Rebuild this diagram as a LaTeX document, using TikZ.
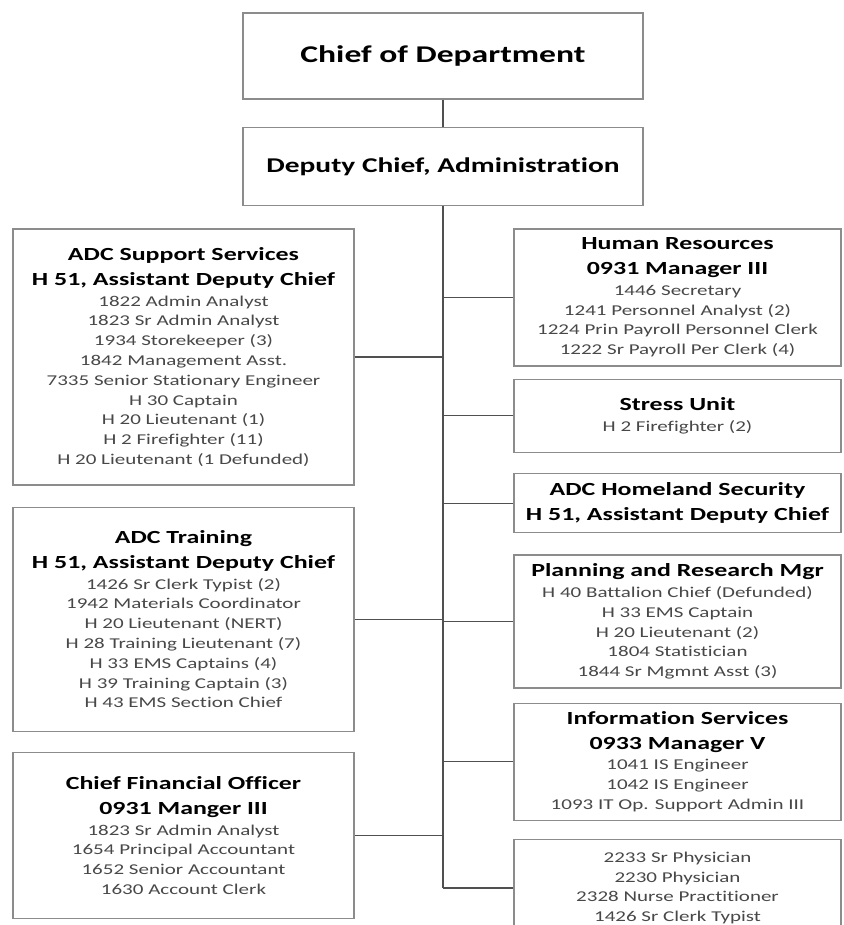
\documentclass[tikz,border=0pt]{standalone}
\usepackage{fontspec}
\setmainfont{Carlito}[FakeStretch=1.4, Ligatures=NoCommon]
\usetikzlibrary{positioning}
\definecolor{boxgray}{RGB}{140,140,140}
\definecolor{linegray}{RGB}{80,80,80}
\definecolor{textgray}{RGB}{72,72,72}
\newcommand{\unit}[1]{{\fontsize{18.5}{25}\selectfont\bfseries\color{black}#1}}

\begin{document}
\begin{tikzpicture}[
    x=1pt, y=-1pt,
    box/.style={rectangle, draw=boxgray, line width=1.3pt, fill=white, align=center, inner sep=0pt},
    leftbox/.style={box, minimum width=341pt, font=\fontsize{15}{19.8}\selectfont, text=textgray},
    rightbox/.style={box, minimum width=327pt, font=\fontsize{15}{19.8}\selectfont, text=textgray},
    link/.style={draw=linegray, line width=1.2pt},
]
\clip (0,0) rectangle (843,925);

\node[box, minimum width=400pt, minimum height=86pt, font=\fontsize{24}{28}\selectfont\bfseries] (chief) at (443,56) {Chief of Department};
\node[box, minimum width=400pt, minimum height=78pt, font=\fontsize{21}{25}\selectfont\bfseries, below=27pt of chief] (dep) {Deputy Chief, Administration};

\node[leftbox, minimum height=256pt] (sup) at (183.5,357) {\unit{ADC Support Services}\\[5pt] \unit{H 51, Assistant Deputy Chief}\\[1pt] 1822 Admin Analyst\\ 1823 Sr Admin Analyst\\ 1934 Storekeeper (3)\\ 1842 Management Asst.\\ 7335 Senior Stationary Engineer\\ H 30 Captain\\ H 20 Lieutenant (1)\\ H 2 Firefighter (11)\\ H 20 Lieutenant (1 Defunded)};
\node[leftbox, minimum height=224pt, below=21pt of sup] (trn) {\unit{ADC Training}\\[5pt] \unit{H 51, Assistant Deputy Chief}\\[1pt] 1426 Sr Clerk Typist (2)\\ 1942 Materials Coordinator\\ H 20 Lieutenant (NERT)\\ H 28 Training Lieutenant (7)\\ H 33 EMS Captains (4)\\ H 39 Training Captain (3)\\ H 43 EMS Section Chief};
\node[leftbox, minimum height=166pt, below=20pt of trn] (cfo) {\unit{Chief Financial Officer}\\[5pt] \unit{0931 Manger III}\\[1pt] 1823 Sr Admin Analyst\\ 1654 Principal Accountant\\ 1652 Senior Accountant\\ 1630 Account Clerk};

\node[rightbox, minimum height=137pt] (hr) at (677.5,297.5) {\unit{Human Resources}\\[5pt] \unit{0931 Manager III}\\[1pt] 1446 Secretary\\ 1241 Personnel Analyst (2)\\ 1224 Prin Payroll Personnel Clerk\\ 1222 Sr Payroll Per Clerk (4)};
\node[rightbox, minimum height=73pt, below=12pt of hr] (stress) {\unit{Stress Unit}\\[1pt] H 2 Firefighter (2)};
\node[rightbox, minimum height=59pt, below=20pt of stress] (hs) {\unit{ADC Homeland Security}\\[5pt] \unit{H 51, Assistant Deputy Chief}};
\node[rightbox, minimum height=133pt, below=21pt of hs] (plan) {\unit{Planning and Research Mgr}\\[1pt] H 40 Battalion Chief (Defunded)\\ H 33 EMS Captain\\ H 20 Lieutenant (2)\\ 1804 Statistician\\ 1844 Sr Mgmnt Asst (3)};
\node[rightbox, minimum height=117pt, below=14pt of plan] (info) {\unit{Information Services}\\[5pt] \unit{0933 Manager V}\\[1pt] 1041 IS Engineer\\ 1042 IS Engineer\\ 1093 IT Op. Support Admin III};
\node[rightbox, minimum height=97pt, below=18pt of info] (med) {2233 Sr Physician\\ 2230 Physician\\ 2328 Nurse Practitioner\\ 1426 Sr Clerk Typist};

\draw[link] (chief) -- (dep);
\draw[link] (dep.south) -- (dep.south |- med.west);
\draw[link] (dep.south |- sup.east) -- (sup.east);
\draw[link] (dep.south |- trn.east) -- (trn.east);
\draw[link] (dep.south |- cfo.east) -- (cfo.east);
\draw[link] (dep.south |- hr.west) -- (hr.west);
\draw[link] (dep.south |- stress.west) -- (stress.west);
\draw[link] (dep.south |- hs.west) -- (hs.west);
\draw[link] (dep.south |- plan.west) -- (plan.west);
\draw[link] (dep.south |- info.west) -- (info.west);
\draw[link] (dep.south |- med.west) -- (med.west);

\end{tikzpicture}
\end{document}
